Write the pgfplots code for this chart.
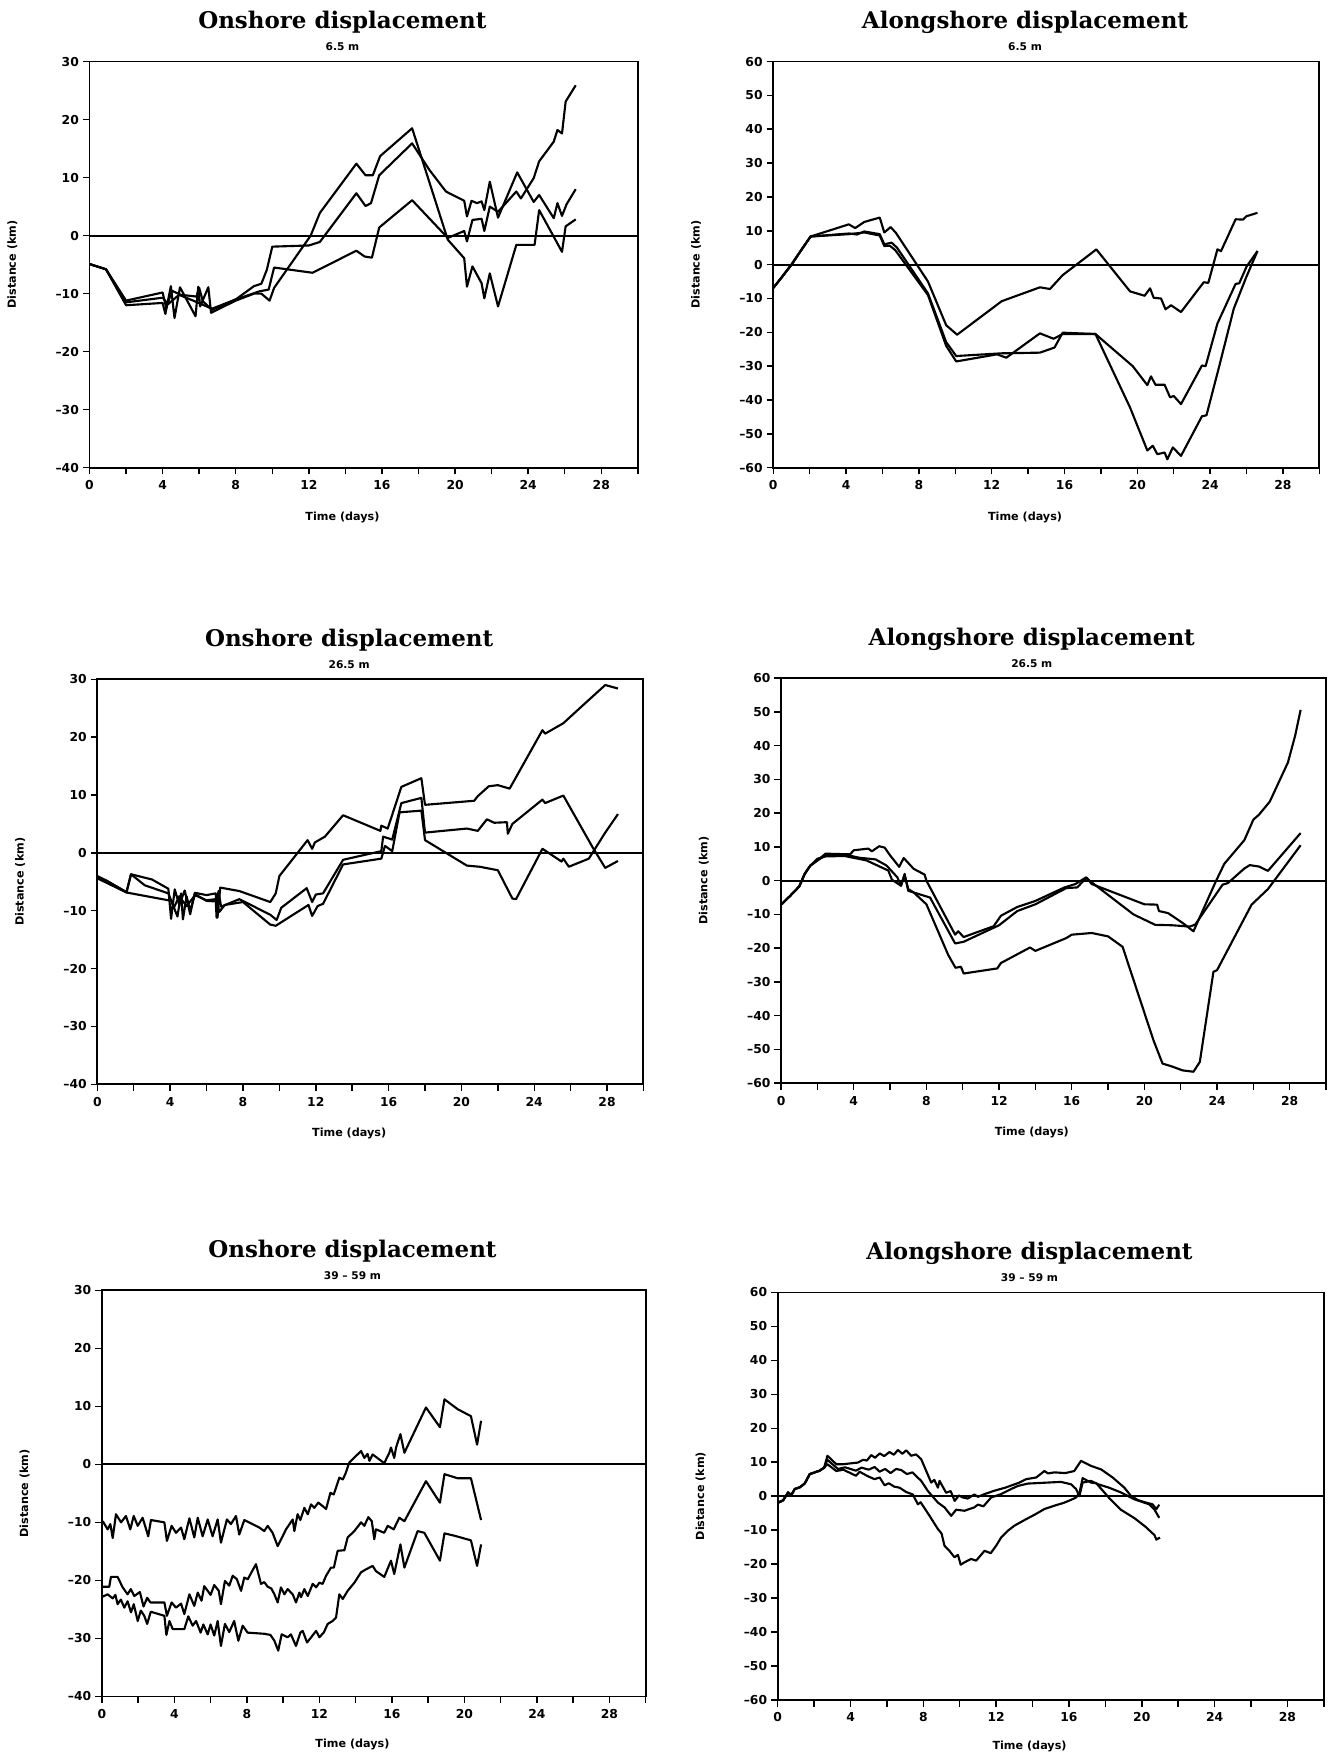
\documentclass[border=0pt]{standalone}
\usepackage{fontspec}
\setmainfont{DejaVu Serif}
\setsansfont{DejaVu Sans}
\usepackage{pgfplots}
\pgfplotsset{compat=1.18}
\newcommand{\tk}{\fontsize{11}{13}\selectfont\sffamily\bfseries}
\newcommand{\ttl}{\fontsize{20.5}{24}\selectfont\rmfamily\bfseries}
\newcommand{\sub}{\fontsize{9.5}{11}\selectfont\sffamily\bfseries}
\newcommand{\lab}{\fontsize{10}{12}\selectfont\sffamily\bfseries}
\pgfplotsset{
 base/.style={scale only axis, anchor=south west, xmin=0, xmax=30,
  xtick={0,4,...,28}, xticklabels={0,4,8,12,16,20,24,28}, minor xtick={2,6,...,30},
  tick align=outside, tick pos=left, major tick length=6pt, minor tick length=6pt,
  every tick/.style={black,line width=1.3pt},
  axis line style={line width=1.7pt},
  tick label style={font=\tk}, xticklabel style={yshift=-2pt}},
 on/.style={base, ymin=-40, ymax=30, ytick={-40,-30,...,30},
  yticklabels={–40,–30,–20,–10,0,10,20,30}},
 al/.style={base, ymin=-60, ymax=60, ytick={-60,-50,...,60},
  yticklabels={–60,–50,–40,–30,–20,–10,0,10,20,30,40,50,60}},
 data/.style={black, line width=1.9pt, line join=round, mark=none},
 zero/.style={black, line width=1.9pt, mark=none},
}
\begin{document}
\begin{tikzpicture}
\path (0pt,0pt) rectangle (1193pt,1568pt);
% ---------- Panel 1
\begin{axis}[on, at={(80pt,1150pt)}, width=490pt, height=363pt]
\addplot[zero] coordinates {(0,0) (30,0)};
\addplot[data] coordinates {(0,-4.9) (0.9,-5.8) (2.0,-12.0) (4.0,-11.6) (4.15,-13.5) (4.45,-8.7) (4.65,-14.2) (4.95,-8.9) (5.8,-13.9) (5.95,-8.8) (6.05,-12.2) (6.5,-8.9) (6.65,-13.3) (8.0,-11.2) (9.0,-10.0) (9.4,-10.0) (9.85,-11.2) (10.1,-9.0) (12.1,0.0) (12.6,3.9) (14.6,12.4) (15.1,10.4) (15.5,10.4) (15.9,13.7) (17.65,18.5) (19.6,-0.7) (20.5,-3.9) (20.65,-8.8) (20.95,-5.3) (21.45,-8.2) (21.6,-10.8) (21.9,-6.5) (22.35,-12.2) (23.35,-1.6) (24.35,-1.6) (24.6,4.4) (25.4,-0.2) (25.85,-2.8) (26.05,1.6) (26.6,2.8)};
\addplot[data] coordinates {(0,-4.9) (0.9,-5.8) (2.0,-11.2) (4.0,-9.8) (4.2,-12.5) (4.5,-9.5) (5.0,-10.2) (5.85,-10.5) (6.0,-9.0) (6.2,-11.3) (6.7,-12.8) (8.0,-11.0) (9.0,-8.7) (9.4,-8.3) (9.7,-5.9) (10.0,-1.9) (12.0,-1.7) (12.6,-1.1) (14.6,7.3) (15.1,5.1) (15.4,5.6) (15.85,10.4) (17.65,15.9) (18.6,11.3) (19.5,7.6) (20.5,6.0) (20.65,3.3) (20.9,6.0) (21.2,5.6) (21.45,5.9) (21.6,4.4) (21.9,9.3) (22.35,3.1) (23.4,10.9) (24.3,5.8) (24.6,7.0) (25.4,3.0) (25.6,5.6) (25.85,3.4) (26.1,5.4) (26.6,8.0)};
\addplot[data] coordinates {(0,-4.9) (0.9,-5.8) (2.0,-11.5) (4.0,-10.7) (4.3,-11.8) (4.9,-10.2) (5.9,-11.5) (6.7,-12.6) (8.0,-11.0) (9.3,-9.6) (9.8,-9.3) (10.1,-5.5) (12.2,-6.4) (14.6,-2.6) (15.05,-3.6) (15.45,-3.8) (15.85,1.4) (17.65,6.1) (19.6,-0.4) (20.5,0.8) (20.65,-1.0) (20.95,2.7) (21.45,2.9) (21.6,0.8) (21.9,5.0) (22.35,4.1) (23.35,7.6) (23.6,6.4) (24.3,9.9) (24.6,12.8) (25.4,16.2) (25.6,18.2) (25.85,17.6) (26.05,23.1) (26.6,25.9)};
\end{axis}
\node[font=\ttl] at (306pt,1548pt) {Onshore displacement};
\node[font=\sub] at (306pt,1526pt) {6.5 m};
\node[font=\lab] at (306pt,1106pt) {Time (days)};
\node[font=\lab, rotate=90] at (11pt,1331.5pt) {Distance (km)};
% ---------- Panel 2
\begin{axis}[al, at={(691pt,1150pt)}, width=488pt, height=363pt]
\addplot[zero] coordinates {(0,0) (30,0)};
\addplot[data] coordinates {(0,-6.9) (0.5,-3.5) (1.0,0.0) (1.5,4.0) (2.05,8.3) (4.15,11.9) (4.5,10.8) (5.0,12.6) (5.85,13.9) (6.1,9.5) (6.45,11.1) (6.75,9.3) (8.5,-5.0) (9.5,-17.9) (10.1,-20.7) (12.55,-10.8) (14.65,-6.7) (15.2,-7.2) (15.9,-3.1) (17.75,4.5) (19.6,-7.9) (20.4,-9.2) (20.7,-7.0) (20.9,-9.8) (21.3,-10.0) (21.55,-13.2) (21.85,-12.0) (22.4,-14.0) (23.65,-5.2) (23.9,-5.4) (24.4,4.5) (24.6,4.0) (25.4,13.4) (25.8,13.3) (26.0,14.3) (26.6,15.3)};
\addplot[data] coordinates {(0,-6.9) (0.5,-3.5) (1.0,0.0) (1.5,4.0) (2.05,8.3) (4.15,9.2) (4.6,8.9) (5.0,9.8) (5.85,9.0) (6.1,6.0) (6.5,6.5) (6.8,5.0) (8.5,-8.5) (9.5,-22.9) (10.05,-27.0) (12.55,-26.2) (14.65,-26.0) (15.45,-24.5) (15.9,-20.1) (17.7,-20.5) (19.75,-30.0) (20.55,-35.6) (20.75,-33.0) (21.0,-35.5) (21.5,-35.5) (21.8,-39.2) (22.0,-38.8) (22.4,-41.2) (23.55,-29.8) (23.75,-30.0) (24.4,-17.4) (25.4,-5.7) (25.6,-5.5) (26.0,-0.6) (26.6,4.0)};
\addplot[data] coordinates {(0,-6.9) (0.5,-3.5) (1.0,0.0) (1.5,4.0) (2.05,8.3) (4.15,9.0) (5.0,9.5) (5.85,8.6) (6.1,5.5) (6.4,5.6) (6.7,4.3) (8.5,-9.0) (9.5,-24.0) (10.05,-28.6) (12.3,-26.5) (12.8,-27.5) (14.65,-20.3) (15.4,-21.9) (15.9,-20.5) (17.7,-20.5) (19.6,-42.2) (20.55,-54.9) (20.85,-53.5) (21.1,-56.0) (21.5,-55.5) (21.65,-57.5) (21.95,-54.0) (22.4,-56.5) (23.55,-44.8) (23.8,-44.5) (24.5,-30.0) (25.3,-13.0) (26.0,-3.5) (26.6,4.0)};
\end{axis}
\node[font=\ttl] at (916pt,1548pt) {Alongshore displacement};
\node[font=\sub] at (916pt,1526pt) {6.5 m};
\node[font=\lab] at (916pt,1106pt) {Time (days)};
\node[font=\lab, rotate=90] at (622pt,1331.5pt) {Distance (km)};
% ---------- Panel 3
\begin{axis}[on, at={(87pt,599pt)}, width=488pt, height=362pt]
\addplot[zero] coordinates {(0,0) (30,0)};
\addplot[data] coordinates {(0,-4.0) (0.5,-4.8) (1.6,-6.8) (1.85,-3.7) (3.0,-4.6) (3.9,-6.2) (4.05,-11.4) (4.25,-6.3) (4.5,-9.0) (4.8,-6.5) (5.1,-10.6) (5.35,-6.9) (6.0,-7.3) (6.5,-7.0) (6.6,-11.2) (6.75,-6.0) (7.8,-6.6) (9.5,-8.5) (9.8,-7.0) (10.0,-4.0) (11.0,0.0) (11.55,2.2) (11.8,0.7) (11.95,1.8) (12.5,2.8) (13.5,6.5) (15.55,3.8) (15.6,4.7) (15.95,4.2) (16.7,11.4) (17.8,12.9) (18.0,8.3) (20.7,9.0) (20.9,9.8) (21.5,11.5) (22.0,11.7) (22.65,11.1) (24.45,21.2) (24.6,20.6) (25.6,22.4) (26.5,25.0) (27.9,29.0) (28.6,28.4)};
\addplot[data] coordinates {(0,-4.4) (0.5,-4.8) (1.6,-6.8) (1.85,-3.7) (2.6,-5.6) (3.9,-7.0) (4.4,-11.0) (4.6,-7.0) (4.7,-11.5) (4.9,-7.5) (5.1,-10.0) (5.35,-7.3) (6.0,-8.2) (6.5,-8.0) (6.55,-11.2) (6.65,-6.6) (6.8,-9.3) (7.8,-8.0) (9.5,-10.7) (9.85,-11.6) (10.1,-9.5) (11.5,-6.1) (11.8,-8.5) (12.0,-7.2) (12.4,-7.0) (13.5,-1.2) (15.6,0.3) (15.7,2.8) (16.2,2.3) (16.7,8.6) (17.8,9.5) (18.0,3.5) (20.3,4.2) (20.9,3.8) (21.4,5.8) (21.8,5.2) (22.5,5.3) (22.55,3.3) (22.8,5.0) (24.45,9.2) (24.6,8.6) (25.6,9.9) (27.2,1.0) (27.9,-2.6) (28.6,-1.4)};
\addplot[data] coordinates {(0,-4.4) (1.6,-6.85) (4.08,-8.3) (4.2,-9.5) (4.5,-7.5) (4.9,-9.2) (5.4,-7.2) (6.0,-8.3) (6.55,-8.4) (6.7,-10.2) (7.0,-9.0) (8.0,-8.5) (9.5,-12.4) (9.8,-12.6) (11.6,-9.0) (11.8,-10.9) (12.1,-9.2) (12.4,-8.8) (13.5,-2.0) (15.6,-1.0) (15.8,1.2) (16.2,0.3) (16.6,7.0) (17.8,7.3) (18.0,2.2) (20.3,-2.2) (21.0,-2.4) (22.0,-3.0) (22.8,-7.9) (23.0,-8.0) (24.45,0.7) (25.5,-1.5) (25.6,-1.0) (25.9,-2.4) (27.0,-1.0) (27.9,3.5) (28.6,6.7)};
\end{axis}
\node[font=\ttl] at (312pt,996pt) {Onshore displacement};
\node[font=\sub] at (312pt,974pt) {26.5 m};
\node[font=\lab] at (312pt,555pt) {Time (days)};
\node[font=\lab, rotate=90] at (18pt,780pt) {Distance (km)};
% ---------- Panel 4
\begin{axis}[al, at={(698pt,600pt)}, width=487pt, height=362pt]
\addplot[zero] coordinates {(0,0) (30,0)};
\addplot[data] coordinates {(0,-7.1) (0.5,-4.5) (1.0,-1.7) (1.3,2.0) (1.6,4.4) (2.0,6.0) (2.45,8.0) (3.8,7.8) (4.0,9.0) (4.8,9.5) (5.0,8.7) (5.4,10.2) (5.7,9.8) (6.0,7.5) (6.5,4.1) (6.75,6.7) (7.3,3.5) (7.9,1.8) (8.0,0.0) (9.58,-16.0) (9.75,-15.0) (10.05,-16.7) (11.7,-13.5) (12.1,-10.4) (13.0,-7.8) (14.0,-6.0) (15.6,-2.0) (16.2,-1.0) (16.8,1.0) (17.1,-1.0) (20.0,-7.0) (20.7,-7.1) (20.8,-9.0) (21.3,-9.6) (22.1,-12.5) (22.7,-15.0) (23.95,0.0) (24.4,5.0) (25.5,12.0) (26.0,18.1) (26.3,19.5) (26.9,23.4) (27.9,35.0) (28.3,43.0) (28.6,50.6)};
\addplot[data] coordinates {(0,-7.1) (0.5,-4.5) (1.0,-1.7) (1.3,2.0) (1.6,4.4) (2.0,6.0) (2.45,7.5) (3.7,7.5) (4.3,6.8) (5.2,6.3) (5.8,4.5) (6.4,1.0) (6.6,-1.5) (6.8,2.0) (7.0,-3.0) (8.2,-5.0) (9.58,-18.6) (10.05,-18.1) (12.0,-13.2) (13.0,-9.0) (14.0,-7.0) (15.7,-2.2) (16.3,-2.0) (16.8,0.8) (17.1,-0.5) (19.4,-10.0) (20.6,-13.1) (21.5,-13.2) (22.5,-13.6) (22.8,-13.0) (24.3,-1.2) (24.6,-0.7) (25.5,3.6) (25.8,4.6) (26.3,4.2) (26.8,2.9) (28.6,14.1)};
\addplot[data] coordinates {(0,-7.1) (0.5,-4.5) (1.0,-1.7) (1.3,2.0) (1.6,4.4) (2.0,6.5) (2.45,7.2) (3.5,7.3) (4.7,6.0) (5.9,3.0) (6.1,0.3) (6.6,-1.5) (6.8,1.6) (7.0,-2.5) (7.3,-3.5) (8.0,-7.0) (9.2,-22.0) (9.6,-25.8) (9.9,-25.5) (10.05,-27.5) (11.9,-26.0) (12.1,-24.4) (13.7,-19.8) (14.0,-20.8) (15.7,-17.0) (16.0,-16.0) (17.1,-15.5) (18.0,-16.5) (18.8,-19.6) (20.5,-47.3) (21.0,-54.2) (21.5,-55.0) (22.1,-56.2) (22.7,-56.6) (23.05,-53.7) (23.8,-27.0) (24.0,-26.5) (25.9,-7.1) (26.8,-2.5) (28.6,10.5)};
\end{axis}
\node[font=\ttl] at (922pt,997pt) {Alongshore displacement};
\node[font=\sub] at (922pt,975pt) {26.5 m};
\node[font=\lab] at (922pt,556pt) {Time (days)};
\node[font=\lab, rotate=90] at (629pt,781pt) {Distance (km)};
% ---------- Panel 5
\begin{axis}[on, at={(91pt,52pt)}, width=486pt, height=363pt]
\addplot[zero] coordinates {(0,0) (30,0)};
\addplot[data] coordinates {(0.05,-9.8) (0.32,-11.2) (0.47,-10.3) (0.6,-12.7) (0.78,-8.6) (1.06,-10.0) (1.33,-8.9) (1.57,-11.2) (1.76,-8.9) (1.98,-10.6) (2.25,-9.2) (2.56,-12.4) (2.71,-9.6) (3.45,-10.0) (3.59,-13.2) (3.85,-10.6) (4.09,-11.8) (4.37,-10.9) (4.55,-12.9) (4.83,-9.3) (5.1,-12.6) (5.29,-9.2) (5.56,-12.4) (5.84,-9.5) (6.11,-12.4) (6.39,-9.5) (6.57,-13.5) (6.9,-9.5) (7.12,-10.3) (7.4,-8.9) (7.58,-12.1) (7.86,-9.6) (8.69,-10.9) (8.96,-11.5) (9.15,-10.6) (9.42,-11.8) (9.7,-14.1) (10.16,-11.2) (10.53,-9.5) (10.62,-11.5) (10.8,-8.6) (10.95,-9.6) (11.17,-7.5) (11.36,-8.6) (11.54,-6.9) (11.72,-7.5) (11.94,-6.6) (12.18,-7.2) (12.37,-7.7) (12.61,-4.9) (12.79,-5.2) (12.92,-4.0) (13.1,-2.3) (13.29,-2.6) (13.43,-1.7) (13.65,0.3) (14.3,2.3) (14.48,1.1) (14.66,1.8) (14.76,0.6) (14.94,1.7) (15.58,0.2) (15.86,2.0) (15.95,2.9) (16.13,1.1) (16.23,2.9) (16.47,5.2) (16.69,2.0) (17.88,9.8) (18.65,6.4) (18.9,11.2) (19.63,9.5) (20.36,8.3) (20.7,3.4) (20.92,7.5)};
\addplot[data] coordinates {(0.05,-21.1) (0.41,-21.1) (0.5,-19.4) (0.87,-19.4) (1.15,-21.2) (1.42,-22.4) (1.6,-21.5) (1.79,-22.7) (2.1,-22.0) (2.3,-24.5) (2.5,-23.0) (2.68,-23.8) (3.45,-23.8) (3.59,-26.1) (3.85,-23.8) (4.09,-24.7) (4.37,-24.0) (4.55,-25.8) (4.83,-22.4) (5.1,-24.4) (5.29,-22.1) (5.5,-23.5) (5.65,-21.0) (5.84,-21.8) (6.0,-22.5) (6.2,-20.8) (6.45,-21.8) (6.57,-24.1) (6.79,-20.1) (7.03,-20.9) (7.22,-19.2) (7.45,-19.8) (7.68,-21.8) (7.86,-19.5) (8.05,-19.8) (8.5,-17.2) (8.78,-20.6) (8.96,-20.3) (9.15,-21.1) (9.35,-21.4) (9.52,-22.4) (9.7,-23.8) (9.88,-21.2) (10.07,-22.4) (10.25,-21.5) (10.53,-22.4) (10.71,-23.8) (10.9,-22.1) (10.99,-22.9) (11.17,-21.5) (11.36,-22.7) (11.63,-20.6) (11.82,-21.2) (12.0,-20.4) (12.18,-20.6) (12.37,-19.2) (12.64,-17.8) (12.8,-17.8) (12.92,-16.1) (13.01,-14.9) (13.38,-14.8) (13.56,-12.6) (13.93,-11.5) (14.3,-10.0) (14.48,-10.6) (14.7,-9.1) (14.89,-9.8) (15.03,-12.9) (15.12,-11.2) (15.58,-11.8) (15.77,-10.6) (16.1,-11.2) (16.41,-9.2) (16.69,-9.8) (17.88,-2.9) (18.65,-6.6) (18.9,-1.7) (19.63,-2.4) (20.36,-2.4) (20.92,-9.6)};
\addplot[data] coordinates {(0.05,-22.8) (0.32,-22.4) (0.6,-23.1) (0.75,-22.5) (0.87,-24.1) (1.05,-23.3) (1.24,-24.7) (1.42,-23.6) (1.61,-25.5) (1.76,-24.1) (1.98,-27.0) (2.15,-25.2) (2.34,-26.1) (2.5,-27.5) (2.7,-25.4) (3.45,-26.1) (3.56,-29.4) (3.73,-27.0) (3.91,-28.4) (4.55,-28.4) (4.77,-26.2) (5.01,-27.8) (5.2,-27.0) (5.45,-29.0) (5.6,-27.6) (5.84,-29.3) (6.0,-27.6) (6.2,-29.5) (6.39,-27.0) (6.57,-31.3) (6.79,-27.5) (7.03,-28.9) (7.3,-27.0) (7.53,-30.4) (7.77,-27.8) (8.04,-29.0) (8.96,-29.2) (9.3,-29.4) (9.52,-30.4) (9.73,-32.1) (9.92,-29.3) (10.25,-29.8) (10.43,-29.3) (10.71,-31.3) (10.95,-29.0) (11.08,-28.7) (11.32,-30.7) (11.55,-29.8) (11.82,-28.7) (12.0,-29.8) (12.24,-29.0) (12.46,-27.5) (12.73,-27.0) (12.92,-26.4) (13.1,-22.4) (13.29,-23.2) (13.56,-21.8) (13.93,-20.4) (14.3,-18.6) (14.57,-18.1) (14.94,-17.5) (15.12,-18.4) (15.58,-19.4) (15.95,-16.6) (16.13,-18.9) (16.47,-13.8) (16.69,-17.8) (17.42,-11.5) (17.79,-11.8) (18.65,-16.6) (18.9,-11.9) (19.45,-12.3) (20.36,-13.1) (20.7,-17.5) (20.92,-13.8)};
\end{axis}
\node[font=\ttl] at (315pt,450pt) {Onshore displacement};
\node[font=\sub] at (315pt,428pt) {39 – 59 m};
\node[font=\lab] at (315pt,9pt) {Time (days)};
\node[font=\lab, rotate=90] at (22pt,233.5pt) {Distance (km)};
% ---------- Panel 6
\begin{axis}[al, at={(695pt,49pt)}, width=488pt, height=364pt]
\addplot[zero] coordinates {(0,0) (30,0)};
\addplot[data] coordinates {(0,-2.0) (0.3,-1.2) (0.57,1.1) (0.75,0.3) (0.93,2.1) (1.21,2.6) (1.48,3.7) (1.76,6.5) (2.03,7.0) (2.3,7.5) (2.55,8.4) (2.73,11.9) (3.22,9.4) (3.58,9.4) (4.41,9.9) (4.68,10.7) (4.9,10.5) (5.14,12.1) (5.35,11.3) (5.6,12.6) (5.85,11.8) (6.14,13.0) (6.38,12.2) (6.6,13.6) (6.85,12.5) (7.06,13.5) (7.33,11.9) (7.6,12.3) (7.88,10.9) (8.43,4.0) (8.6,4.8) (8.8,2.5) (8.89,4.5) (9.25,1.0) (9.5,1.5) (9.72,-1.4) (9.95,0.2) (10.17,-0.4) (10.44,-0.7) (10.8,0.5) (11.0,-0.2) (11.36,0.6) (11.9,1.6) (12.5,2.5) (13.28,4.0) (13.64,5.0) (14.2,5.5) (14.65,7.4) (14.85,6.7) (15.2,7.0) (15.8,6.8) (16.29,7.4) (16.66,10.4) (17.21,8.9) (17.76,7.9) (18.4,5.5) (19.04,2.5) (19.4,0.1) (19.8,-1.2) (20.3,-2.0) (20.59,-2.4) (20.8,-3.8) (20.96,-2.5)};
\addplot[data] coordinates {(0,-2.0) (0.3,-1.2) (0.57,1.1) (0.75,0.3) (0.93,2.1) (1.21,2.6) (1.48,3.7) (1.76,6.5) (2.03,7.0) (2.3,7.5) (2.55,8.4) (2.73,10.7) (3.31,8.0) (3.7,8.5) (4.3,7.5) (4.6,8.4) (5.0,7.8) (5.32,8.6) (5.6,7.2) (5.9,8.0) (6.2,6.8) (6.5,8.0) (6.78,7.7) (7.1,6.5) (7.4,7.0) (7.88,4.5) (8.25,1.5) (8.8,-1.9) (9.16,-3.3) (9.53,-5.8) (9.8,-4.0) (10.26,-4.3) (10.8,-3.3) (11.0,-2.5) (11.3,-3.0) (11.72,-0.4) (12.27,0.6) (12.82,2.1) (13.19,3.0) (13.73,3.7) (15.56,4.2) (16.11,3.5) (16.39,2.1) (16.57,0.0) (16.75,4.0) (17.2,4.5) (17.6,3.5) (18.2,2.5) (18.85,1.1) (19.58,-0.9) (20.4,-2.4) (20.7,-4.0) (20.96,-6.4)};
\addplot[data] coordinates {(0,-2.0) (0.3,-1.2) (0.57,1.1) (0.75,0.3) (0.93,2.1) (1.21,2.6) (1.48,3.7) (1.76,6.5) (2.03,7.0) (2.3,7.5) (2.55,8.4) (2.73,9.4) (3.22,7.4) (3.6,7.8) (4.3,6.0) (4.5,7.2) (4.9,6.0) (5.32,5.0) (5.6,5.5) (5.87,3.2) (6.1,3.8) (6.4,2.8) (6.69,2.5) (7.06,1.2) (7.42,0.5) (7.7,-2.4) (7.85,-1.8) (8.34,-5.8) (8.8,-9.7) (9.0,-11.0) (9.16,-14.6) (9.43,-16.1) (9.71,-18.0) (9.9,-17.3) (10.05,-20.2) (10.26,-19.5) (10.62,-18.5) (10.9,-19.0) (11.36,-16.1) (11.7,-16.8) (12.0,-14.6) (12.27,-12.2) (12.64,-10.2) (13.0,-8.7) (13.64,-6.8) (14.1,-5.5) (14.65,-3.8) (15.2,-2.8) (15.7,-2.0) (16.11,-1.1) (16.39,-0.4) (16.57,0.8) (16.75,5.3) (17.21,4.0) (17.5,3.8) (18.2,-0.5) (18.85,-4.0) (19.6,-6.5) (20.2,-9.0) (20.7,-11.5) (20.8,-12.8) (21.0,-12.2)};
\end{axis}
\node[font=\ttl] at (920pt,448pt) {Alongshore displacement};
\node[font=\sub] at (920pt,426pt) {39 – 59 m};
\node[font=\lab] at (920pt,7pt) {Time (days)};
\node[font=\lab, rotate=90] at (626pt,231pt) {Distance (km)};
\end{tikzpicture}
\end{document}
